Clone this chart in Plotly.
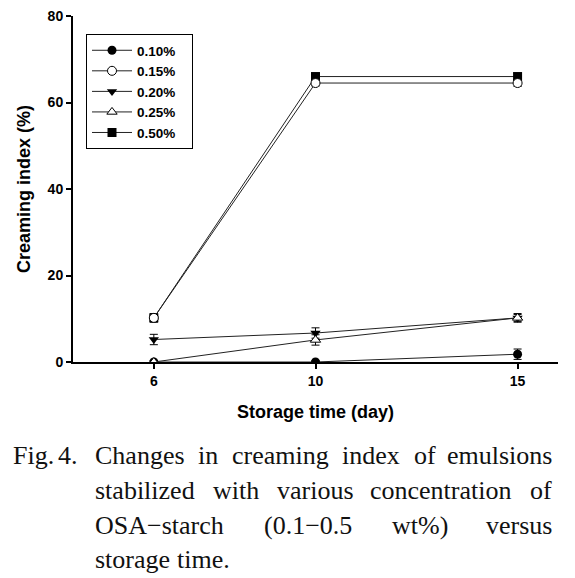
import plotly.graph_objects as go

# ---- data ----
days = [6, 10, 15]
series_names = ["0.10%", "0.15%", "0.20%", "0.25%", "0.50%"]
ci_010 = [0.0, 0.0, 1.8]
ci_015 = [10.2, 64.5, 64.5]
ci_020 = [5.2, 6.7, 10.2]
ci_025 = [0.0, 5.1, 10.2]
ci_050 = [10.2, 66.0, 66.0]
err_010 = [0.3, 0.3, 1.2]
err_015 = [1.0, 0.7, 0.8]
err_020 = [1.2, 1.2, 0.8]
err_025 = [0.3, 1.2, 1.0]
err_050 = [0.8, 0.8, 0.8]
x_ticks = [6, 10, 15]
y_ticks = [0, 20, 40, 60, 80]

caption_lines = [
    ["Fig.", "4.", "Changes", "in", "creaming", "index", "of", "emulsions"],
    ["stabilized", "with", "various", "concentration", "of"],
    ["OSA−starch", "(0.1−0.5", "wt%)", "versus"],
    ["storage", "time."],
]

# ---- layout geometry (pixels in the reference; page body adds an 8px offset) ----
OFF = 8
W, H = 575 - OFF, 578 - OFF
L, R, T, B = 73 - OFF, 558 - OFF, 16 - OFF, 362 - OFF

def px(x):
    return (x - OFF - L) / (R - L)

def py(y):
    return (B - (y - OFF)) / (B - T)

# word x-positions (reference pixels) per caption line (last word right-anchored), line centre y
caption_pos = [
    ([12, 57, 94, 197, 231, 341, 413, 553], 455),
    ([94, 212, 276, 369, 553], 490),
    ([94, 263, 391, 553], 525),
    ([94, 176], 559),
]

fig = go.Figure()

styles = [
    (series_names[4], ci_050, err_050, dict(symbol="square", color="black", size=9)),
    (series_names[0], ci_010, err_010, dict(symbol="circle", color="black", size=9)),
    (series_names[1], ci_015, err_015, dict(symbol="circle", color="white", size=9, line=dict(color="black", width=1))),
    (series_names[2], ci_020, err_020, dict(symbol="triangle-down", color="black", size=9)),
    (series_names[3], ci_025, err_025, dict(symbol="triangle-up", color="white", size=9, line=dict(color="black", width=1))),
]
order = {n: i for i, n in enumerate(series_names)}
for name, ys, es, mk in styles:
    fig.add_trace(go.Scatter(
        x=days, y=ys, name=name + "\u00a0\u00a0\u00a0", mode="lines+markers",
        line=dict(color="#222", width=1),
        marker=mk,
        error_y=dict(type="data", array=es, color="black", thickness=1, width=4),
        legendrank=order[name],
    ))

fig.update_layout(
    width=W, height=H,
    margin=dict(l=L, r=W - R, t=T, b=H - B),
    paper_bgcolor="white", plot_bgcolor="white",
    font=dict(family="Liberation Sans, Arial, sans-serif", color="black"),
    showlegend=True,
    legend=dict(
        x=px(86), y=py(34), xanchor="left", yanchor="top",
        bordercolor="black", borderwidth=1, bgcolor="white",
        font=dict(size=13.5, family="Liberation Sans, Arial", weight="bold"),
        traceorder="normal", tracegroupgap=0, itemwidth=40,
    ),
    xaxis=dict(
        range=[4, 16], tickvals=x_ticks, ticktext=[str(v) for v in x_ticks],
        showgrid=False, zeroline=False, showline=True, linecolor="black", linewidth=2,
        ticks="outside", ticklen=5, tickwidth=2, tickcolor="black",
        tickfont=dict(size=14, weight="bold"), automargin=False,
        ticklabeloverflow="allow",
        title=dict(text="<b>Storage time (day)</b>", font=dict(size=18), standoff=18),
    ),
    yaxis=dict(
        range=[0, 80], tickvals=y_ticks,
        showgrid=False, zeroline=False, showline=True, linecolor="black", linewidth=2,
        ticks="outside", ticklen=5, tickwidth=2, tickcolor="black",
        tickfont=dict(size=14, weight="bold"), automargin=False,
        ticklabeloverflow="allow",
        title=dict(text="<b>Creaming index (%)</b>", font=dict(size=18), standoff=12),
    ),
)

for words, (xs, yc) in zip(caption_lines, caption_pos):
    for i, (w, x) in enumerate(zip(words, xs)):
        last = (i == len(words) - 1) and len(words) > 2
        fig.add_annotation(
            text=w, x=px(x), y=py(yc), xref="paper", yref="paper",
            xanchor="right" if last else "left", yanchor="middle",
            showarrow=False, borderpad=0,
            font=dict(family="Liberation Serif, Times New Roman, serif", size=26, color="#111"),
        )

fig.write_html("out.html")
